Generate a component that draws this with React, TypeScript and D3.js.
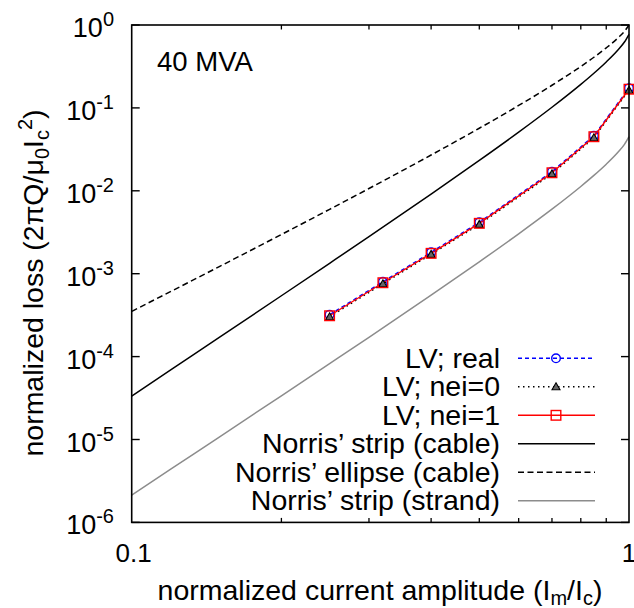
import React from 'react';
import * as d3 from 'd3';

// measured points (I_m/I_c, normalized loss)
const ampPts = [0.25, 0.32, 0.4, 0.5, 0.7, 0.85, 1.0];
const lossReal = [3.2e-4, 8.0e-4, 1.81e-3, 4.17e-3, 0.0170, 0.0462, 0.173];
const lossNei0 = [3.02e-4, 7.55e-4, 1.71e-3, 3.93e-3, 0.0160, 0.0436, 0.163];
const lossNei1 = [3.11e-4, 7.78e-4, 1.76e-3, 4.05e-3, 0.0165, 0.0449, 0.168];

// analytic curves
const curveX = [0.1, 0.12, 0.15, 0.2, 0.25, 0.3, 0.4, 0.5, 0.6, 0.7, 0.8, 0.85, 0.9, 0.95, 0.98, 1.0];
const stripCable = [3.34e-5, 6.95e-5, 1.70e-4, 5.42e-4, 1.336e-3, 2.80e-3, 9.13e-3, 0.02325, 0.05098, 0.10175, 0.19226, 0.26205, 0.35853, 0.49996, 0.62778, 0.77259];
const ellipseCable = [3.511e-4, 6.133e-4, 1.2178e-3, 2.9703e-3, 5.9769e-3, 0.0106551, 0.0270093, 0.0568528, 0.1069674, 0.1876163, 0.3162248, 0.408364, 0.529483, 0.6979268, 0.8431191, 1.0];
const stripStrand = [2.14e-6, 4.42e-6, 1.071e-5, 3.37e-5, 8.23e-5, 1.711e-4, 5.51e-4, 1.391e-3, 3.027e-3, 6.0e-3, 0.01128, 0.01533, 0.02093, 0.02914, 0.03652, 0.04492];

const yTickExp = [0, -1, -2, -3, -4, -5, -6];
const xMinor = [0.2, 0.3, 0.4, 0.5, 0.6, 0.7, 0.8, 0.9];

const W = 634;
const H = 608;
const left = 131.7, right = 629, top = 25, bottom = 522.4;
const font = '"Liberation Sans", Arial, Helvetica, sans-serif';

export default function App() {
  const x = d3.scaleLog().domain([0.1, 1]).range([left, right]);
  const y = d3.scaleLog().domain([1e-6, 1]).range([bottom, top]);

  const line = d3.line<[number, number]>()
    .x(d => x(d[0]))
    .y(d => y(d[1]));
  const smooth = d3.line<[number, number]>()
    .x(d => x(d[0]))
    .y(d => y(d[1]))
    .curve(d3.curveMonotoneX);

  const zip = (xs: number[], ys: number[]) => xs.map((v, i) => [v, ys[i]] as [number, number]);

  const legendRows = [
    { label: 'LV; real', stroke: '#0000ff', dash: '4,3', mark: 'circle' },
    { label: 'LV; nei=0', stroke: '#000', dash: '1.5,3.5', mark: 'tri' },
    { label: 'LV; nei=1', stroke: '#ff0000', dash: null, mark: 'square' },
    { label: 'Norris\u2019 strip (cable)', stroke: '#000', dash: null, mark: null },
    { label: 'Norris\u2019 ellipse (cable)', stroke: '#000', dash: '6,3.5', mark: null },
    { label: 'Norris\u2019 strip (strand)', stroke: '#8c8c8c', dash: null, mark: null },
  ];

  const marker = (kind: string | null, cx: number, cy: number, key: any) => {
    if (kind === 'circle')
      return <circle key={key} cx={cx} cy={cy} r={4.3} fill="none" stroke="#0000ff" strokeWidth={1.4} />;
    if (kind === 'tri')
      return <path key={key} d={`M${cx},${cy - 4}L${cx + 4},${cy + 3}L${cx - 4},${cy + 3}Z`} fill="#666" stroke="#000" strokeWidth={1.1} />;
    if (kind === 'square')
      return <rect key={key} x={cx - 4.8} y={cy - 4.8} width={9.6} height={9.6} fill="none" stroke="#ff0000" strokeWidth={1.4} />;
    return null;
  };

  const legY0 = 358.3;
  const legDy = 28.5;

  return (
    <svg width={W} height={H} style={{ position: 'absolute', left: 0, top: 0, background: '#fff' }}
      fontFamily={font}>
      {/* theory curves */}
      <path d={smooth(zip(curveX, stripStrand)) || ''} fill="none" stroke="#8c8c8c" strokeWidth={1.5} />
      <path d={smooth(zip(curveX, stripCable)) || ''} fill="none" stroke="#000" strokeWidth={1.5} />
      <path d={smooth(zip(curveX, ellipseCable)) || ''} fill="none" stroke="#000" strokeWidth={1.5} strokeDasharray="6,3.5" />

      {/* measured series */}
      <path d={line(zip(ampPts, lossReal)) || ''} fill="none" stroke="#0000ff" strokeWidth={1.4} strokeDasharray="4,3" />
      <path d={line(zip(ampPts, lossNei0)) || ''} fill="none" stroke="#000" strokeWidth={1.4} strokeDasharray="1.5,3.5" />
      <path d={line(zip(ampPts, lossNei1)) || ''} fill="none" stroke="#ff0000" strokeWidth={1.4} />
      {ampPts.map((a, i) => marker('circle', x(a), y(lossReal[i]), 'c' + i))}
      {ampPts.map((a, i) => marker('tri', x(a), y(lossNei0[i]), 't' + i))}
      {ampPts.map((a, i) => marker('square', x(a), y(lossNei1[i]), 's' + i))}

      {/* frame */}
      <rect x={left} y={top} width={right - left} height={bottom - top} fill="none" stroke="#000" strokeWidth={1.6} />

      {/* y ticks */}
      {yTickExp.map(e => {
        const yy = y(Math.pow(10, e));
        return (
          <g key={'y' + e}>
            <line x1={left} x2={left + 8} y1={yy} y2={yy} stroke="#000" strokeWidth={1.4} />
            <line x1={right} x2={right - 8} y1={yy} y2={yy} stroke="#000" strokeWidth={1.4} />
            <text x={114} y={yy + 12} textAnchor="end" fontSize={27}>
              10<tspan fontSize={20} dy={-11}>{e}</tspan>
            </text>
          </g>
        );
      })}

      {/* x ticks */}
      {xMinor.map(v => (
        <g key={'x' + v}>
          <line x1={x(v)} x2={x(v)} y1={bottom} y2={bottom - 4.5} stroke="#000" strokeWidth={1.3} />
          <line x1={x(v)} x2={x(v)} y1={top} y2={top + 4.5} stroke="#000" strokeWidth={1.3} />
        </g>
      ))}
      <text x={x(0.1) + 2} y={562} textAnchor="middle" fontSize={26}>0.1</text>
      <text x={x(1)} y={562} textAnchor="middle" fontSize={26}>1</text>

      {/* axis labels */}
      <text x={380} y={600} textAnchor="middle" fontSize={28.5}>
        normalized current amplitude (I<tspan fontSize={20} dy={5}>m</tspan><tspan dy={-5}>/I</tspan><tspan fontSize={20} dy={5}>c</tspan><tspan dy={-5}>)</tspan>
      </text>
      <text transform="translate(43,283) rotate(-90)" textAnchor="middle" fontSize={28.5}>
        normalized loss (2{'\u03c0'}Q/{'\u03bc'}<tspan fontSize={20} dy={6}>0</tspan><tspan dy={-6}>I</tspan><tspan fontSize={20} dy={6}>c</tspan><tspan fontSize={20} dy={-17}>2</tspan><tspan dy={11}>)</tspan>
      </text>

      <text x={157} y={71} fontSize={27.5}>40 MVA</text>

      {/* legend */}
      {legendRows.map((r, i) => {
        const yy = legY0 + i * legDy;
        return (
          <g key={'l' + i}>
            <text x={500} y={yy + 9.5} textAnchor="end" fontSize={28.5}>{r.label}</text>
            <line x1={518} x2={595} y1={yy} y2={yy} stroke={r.stroke} strokeWidth={1.5}
              strokeDasharray={r.dash || undefined} />
            {marker(r.mark, 556, yy, 'm' + i)}
          </g>
        );
      })}
    </svg>
  );
}
